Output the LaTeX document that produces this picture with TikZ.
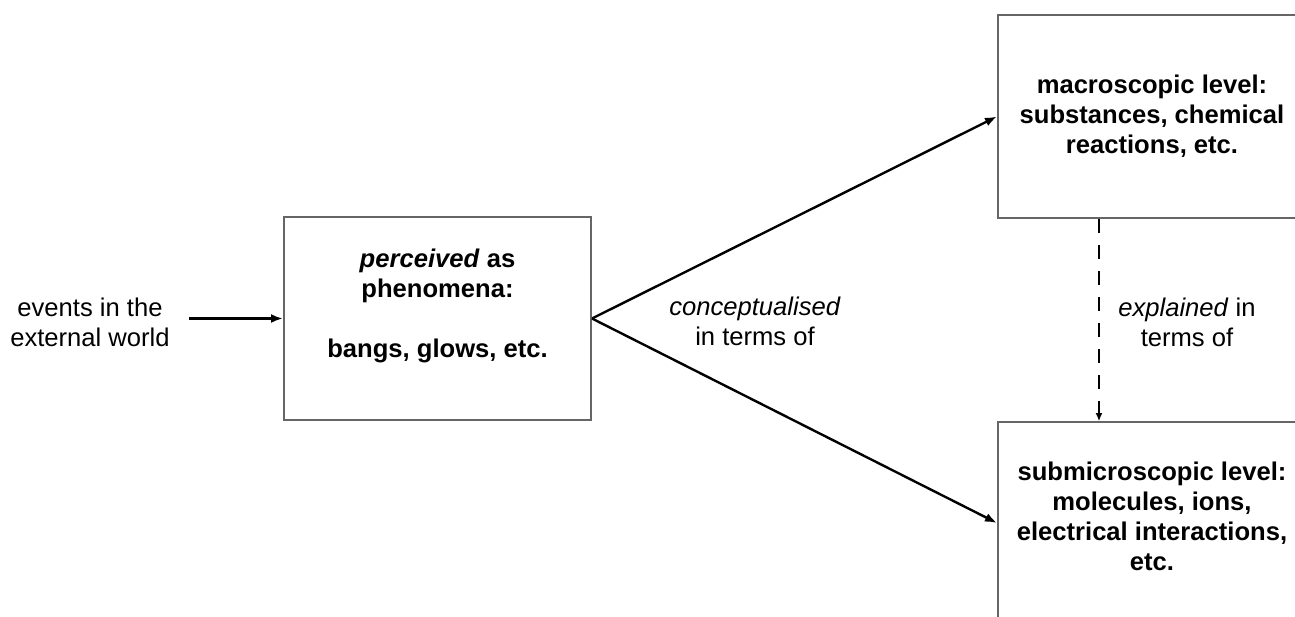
\documentclass[tikz,border=0pt]{standalone}
\usepackage{fontspec}
\setmainfont{Liberation Sans}
\usetikzlibrary{arrows.meta,positioning}
\newcommand{\diagfont}{\fontsize{12.8}{15}\selectfont}
\begin{document}
\begin{tikzpicture}[x=0.5pt,y=-0.5pt,
  txt/.style={font=\diagfont,align=center,inner sep=0pt},
  box/.style={draw=black!60,line width=1pt,font=\diagfont\bfseries,align=center,inner sep=0pt},
  post/.style={-{Latex[length=6pt,width=4.5pt]},line width=1.2pt},
  dashpost/.style={-{Latex[length=4pt,width=3.5pt]},line width=0.6pt,dash pattern=on 7pt off 6pt}]
%
\useasboundingbox (0,0) rectangle (1295,616);
\clip (0,0) rectangle (1295,616);
%
\node[txt] (events) at (90,322) {events in the\\external world};
\node[box,minimum width=153.5pt,minimum height=101.5pt] (percv) at (437.5,318.5)
  {\textit{perceived} as\\phenomena:\\[15pt]bangs, glows, etc.\\ \mbox{}};
\node[box,anchor=north west,minimum width=154pt,minimum height=101.5pt] (macro) at (997,14)
  {macroscopic level:\\substances, chemical\\reactions, etc.};
\node[box,anchor=north west,minimum width=154pt,minimum height=109.5pt] (submicro) at (997,421)
  {submicroscopic level:\\molecules, ions,\\electrical interactions,\\etc.\\ \mbox{}};
\node[txt] (concept) at (755,321) {\textit{conceptualised}\\in terms of};
\node[txt] (explain) at (1187,322) {\textit{explained} in\\terms of};
%
\draw[post] ([xshift=9.5pt]events.east |- percv.west) -- (percv.west);
\draw[post] (percv.east) -- (macro.west);
\draw[post] (percv.east) -- ([yshift=4.25pt]submicro.west);
\draw[dashpost] ([xshift=51pt]macro.south west) -- ([xshift=51pt]submicro.north west);
%
\end{tikzpicture}
\end{document}
